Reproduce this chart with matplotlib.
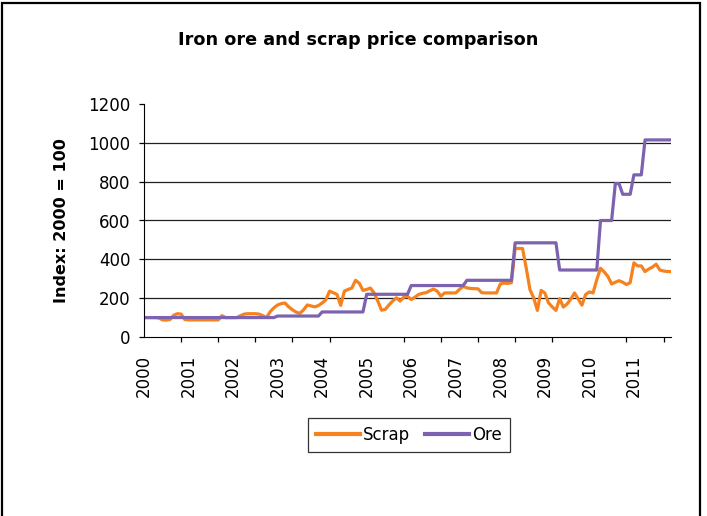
import matplotlib
matplotlib.use("Agg")
import matplotlib.pyplot as plt
from matplotlib.patches import Rectangle
from matplotlib.ticker import FixedLocator

plt.rcParams['font.family'] = ['DejaVu Sans']

# ==========================================
# DATA (monthly index, Jan 2000 = first point, 2000 = 100)
# ==========================================

year_labels = ['2000', '2001', '2002', '2003', '2004', '2005',
               '2006', '2007', '2008', '2009', '2010', '2011']

# scrap price index, one value per month (Jan 2000 .. Nov 2011)
scrap = [
    100, 100, 100, 100, 98, 88, 87, 90, 112, 120, 118, 90,        # 2000
    88, 88, 88, 88, 88, 88, 88, 88, 88, 110, 100, 100,            # 2001
    100, 100, 110, 118, 120, 120, 120, 118, 110, 100, 130, 150,   # 2002
    165, 172, 175, 155, 140, 128, 122, 140, 165, 160, 155, 162,   # 2003
    175, 192, 236, 228, 219, 163, 236, 245, 252, 292, 277, 240,   # 2004
    245, 252, 227, 185, 138, 142, 165, 185, 202, 185, 205, 210,   # 2005
    193, 205, 219, 225, 228, 238, 247, 236, 210, 227, 227, 227,   # 2006
    227, 245, 261, 253, 250, 249, 248, 228, 227, 227, 227, 227,   # 2007
    273, 278, 276, 280, 456, 456, 456, 354, 244, 202, 137, 240,   # 2008
    227, 176, 155, 137, 198, 154, 170, 195, 227, 195, 164, 219,   # 2009
    232, 227, 295, 354, 335, 312, 273, 282, 290, 282, 270, 280,   # 2010
    382, 366, 366, 337, 350, 360, 375, 345, 340, 337, 337,        # 2011
]

# iron ore contract price index, one value per month
ore = [
    100, 100, 100, 100, 100, 100, 100, 100, 100, 100, 100, 100,   # 2000
    100, 100, 100, 100, 100, 100, 100, 100, 100, 100, 100, 100,   # 2001
    100, 100, 100, 100, 100, 100, 100, 100, 100, 100, 100, 100,   # 2002
    108, 108, 108, 108, 108, 108, 108, 108, 108, 108, 108, 108,   # 2003
    129, 129, 129, 129, 129, 129, 129, 129, 129, 129, 129, 129,   # 2004
    220, 220, 220, 220, 220, 220, 220, 220, 220, 220, 220, 220,   # 2005
    265, 265, 265, 265, 265, 265, 265, 265, 265, 265, 265, 265,   # 2006
    265, 265, 265, 292, 292, 292, 292, 292, 292, 292, 292, 292,   # 2007
    292, 292, 292, 292, 485, 485, 485, 485, 485, 485, 485, 485,   # 2008
    485, 485, 485, 485, 345, 345, 345, 345, 345, 345, 345, 345,   # 2009
    345, 345, 345, 600, 600, 600, 600, 790, 790, 735, 735, 735,   # 2010
    835, 835, 835, 1015, 1015, 1015, 1015, 1015, 1015, 1015, 1015,  # 2011
]

months = list(range(len(scrap)))
label_months = [12 * i for i in range(len(year_labels))]
tick_months = list(range(0, len(scrap), 10))

# ==========================================
# FIGURE
# ==========================================

W, H = 707, 516
fig = plt.figure(figsize=(W / 100, H / 100), dpi=100)

# outer frame of the chart
fig.patches.append(Rectangle((2 / W, -0.05), 698 / W, 1.05 - 3 / H,
                             transform=fig.transFigure, fill=False,
                             lw=1.6, ec='black'))

ax = fig.add_axes([144 / W, 1 - 337 / H, 527 / W, 233 / H])

ax.plot(months, scrap, color='#F5821F', lw=2.3, label='Scrap', solid_joinstyle='round')
ax.plot(months, ore, color='#7D62AF', lw=2.3, label='Ore', solid_joinstyle='round')

ax.set_xlim(0, len(scrap) - 1)
ax.set_ylim(0, 1200)
ax.set_yticks(range(0, 1201, 200))

# gridlines (no line at the top)
for v in range(200, 1001, 200):
    ax.axhline(v, color='#202020', lw=0.9, zorder=0)

ax.spines['top'].set_visible(False)
ax.spines['right'].set_visible(False)
ax.spines['left'].set_color('black')
ax.spines['bottom'].set_color('black')

ax.tick_params(axis='y', direction='out', length=3.6, width=0.9, pad=6,
               labelsize=12)

# year labels every 12 months, tick marks every 10 months
ax.xaxis.set_major_locator(FixedLocator(label_months))
ax.set_xticklabels(year_labels, rotation=90)
ax.xaxis.set_minor_locator(FixedLocator(tick_months))
ax.tick_params(axis='x', which='major', length=0, pad=13, labelsize=12)
ax.tick_params(axis='x', which='minor', direction='out', length=3.6, width=0.9)
for lbl in ax.get_xticklabels():
    lbl.set_verticalalignment('top')

fig.text(358 / W, 1 - 40 / H, 'Iron ore and scrap price comparison',
         ha='center', va='center', fontsize=12.7, fontweight='bold')
fig.text(62 / W, 1 - 221 / H, 'Index: 2000 = 100', rotation=90,
         ha='center', va='center', fontsize=11.5, fontweight='bold')

leg = fig.legend(loc='center', bbox_to_anchor=(409 / W, 1 - 435 / H),
                 ncol=2, fontsize=12, frameon=True, fancybox=False,
                 edgecolor='black', handlelength=2.6, handletextpad=0.2,
                 columnspacing=0.9, borderpad=0.5)
leg.get_frame().set_linewidth(0.9)
for line in leg.get_lines():
    line.set_linewidth(3)

fig.savefig('out.png', dpi=100)
